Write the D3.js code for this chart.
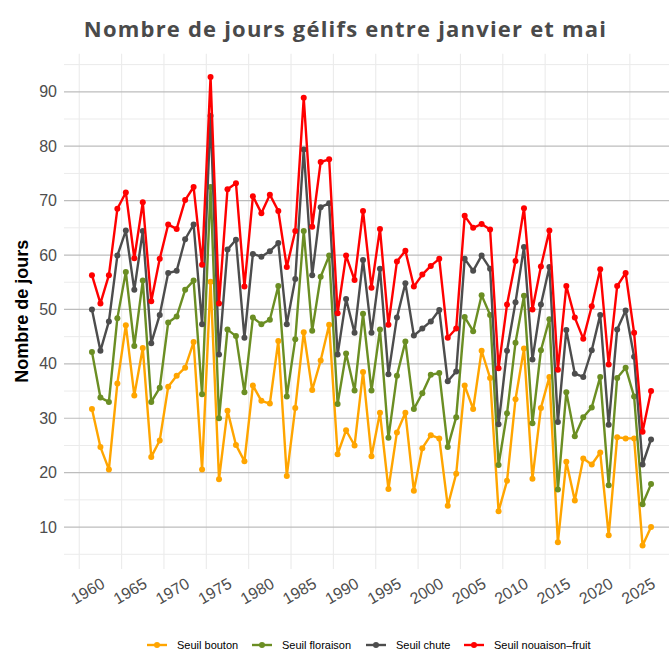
<!DOCTYPE html>
<html>
<head>
<meta charset="utf-8">
<script src="https://cdn.jsdelivr.net/npm/d3@7"></script>
<style>
  html, body { margin: 0; padding: 0; background: #ffffff; }
  svg { display: block; }
</style>
</head>
<body>
<svg id="chart" width="669" height="650"></svg>
<script>
// Years of observation (points sit at mid-year on a continuous year axis)
const years = d3.range(1961, 2028);

// Number of frost days (January–May) under each threshold
const bouton = [31.7, 24.7, 20.6, 36.4, 47.1, 34.2, 42.9, 22.9, 25.9, 35.8, 37.8, 39.3, 44.0, 20.6, 55.1, 18.8,
  31.4, 25.1, 22.1, 36.0, 33.2, 32.7, 44.2, 19.4, 31.9, 45.8, 35.2, 40.6, 47.2, 23.4, 27.8, 25.0,
  38.5, 23.0, 31.0, 17.0, 27.4, 31.0, 16.7, 24.5, 26.9, 26.3, 13.9, 19.8, 36.0, 31.7, 42.4, 37.4,
  12.9, 18.5, 33.5, 42.8, 18.9, 31.9, 37.6, 7.2, 22.0, 14.9, 22.6, 21.5, 23.7, 8.5, 26.5, 26.3,
  26.3, 6.6, 10.0];

const floraison = [42.2, 33.8, 33.0, 48.4, 56.9, 43.3, 55.3, 33.0, 35.6, 47.6, 48.7, 53.6, 55.3, 34.4, 72.5, 30.0,
  46.3, 45.1, 34.8, 48.5, 47.3, 48.1, 54.3, 34.0, 44.5, 64.4, 46.1, 56.0, 59.9, 32.6, 41.9, 35.1,
  49.2, 35.1, 46.3, 26.4, 37.8, 44.1, 31.7, 34.6, 38.0, 38.3, 24.7, 30.2, 48.6, 46.0, 52.6, 49.0,
  21.4, 30.9, 43.9, 52.5, 29.1, 42.5, 48.2, 16.9, 34.8, 26.7, 30.2, 32.0, 37.6, 17.7, 37.4, 39.3,
  34.0, 14.2, 17.9];

const chute = [50.0, 42.4, 47.8, 59.9, 64.5, 53.6, 64.4, 43.8, 49.0, 56.7, 57.1, 62.9, 65.6, 47.3, 85.6, 41.7,
  61.0, 62.8, 44.8, 60.2, 59.7, 60.7, 62.2, 47.3, 55.6, 79.4, 56.3, 68.8, 69.5, 41.7, 51.9, 45.7,
  59.1, 45.7, 57.5, 38.1, 48.5, 54.8, 45.2, 46.5, 47.8, 49.9, 36.8, 38.6, 59.3, 57.1, 59.9, 57.5,
  28.9, 42.4, 51.3, 61.5, 40.8, 50.9, 57.8, 29.3, 46.2, 38.2, 37.6, 42.5, 49.0, 28.8, 46.3, 49.8,
  41.3, 21.5, 26.1];

const nouaison = [56.3, 51.1, 56.3, 68.5, 71.5, 59.4, 69.7, 51.5, 59.3, 65.6, 64.8, 70.1, 72.5, 58.2, 92.7, 51.1,
  72.1, 73.2, 54.2, 70.8, 67.7, 71.1, 68.1, 57.8, 64.4, 88.9, 65.2, 77.1, 77.6, 49.3, 59.9, 55.4,
  68.1, 54.0, 64.8, 47.2, 58.8, 60.8, 54.2, 56.4, 58.0, 59.3, 44.8, 46.5, 67.2, 65.0, 65.7, 64.7,
  39.2, 50.9, 58.9, 68.6, 50.0, 57.9, 64.5, 38.9, 54.3, 48.5, 44.6, 50.6, 57.4, 39.9, 54.3, 56.7,
  45.7, 27.5, 35.0];

const seriesNames = ["Seuil bouton", "Seuil floraison", "Seuil chute", "Seuil nouaison\u2013fruit"];
const seriesColors = ["#FFA500", "#6B8E23", "#4D4D4D", "#FF0000"];
const xTicks = d3.range(1960, 2026, 5);
const yTicks = [10, 20, 30, 40, 50, 60, 70, 80, 90];
const yMinor = [5, 15, 25, 35, 45, 55, 65, 75, 85, 95];

const series = [bouton, floraison, chute, nouaison].map((vals, k) => ({
  name: seriesNames[k],
  color: seriesColors[k],
  points: years.map((yr, i) => ({ x: yr + 0.5, v: vals[i] }))
}));

const svg = d3.select("#chart");
const panel = { left: 64, right: 679, top: 53.7, bottom: 569 };

// Continuous scales with 5% padding around the data range
function padded(ext) {
  const pad = (ext[1] - ext[0]) * 0.05;
  return [ext[0] - pad, ext[1] + pad];
}
const allX = series.flatMap(s => s.points.map(p => p.x));
const allV = series.flatMap(s => s.points.map(p => p.v));
const x = d3.scaleLinear().domain(padded(d3.extent(allX))).range([panel.left, panel.right]);
const y = d3.scaleLinear().domain(padded(d3.extent(allV))).range([panel.bottom, panel.top]);

// Grid
const grid = svg.append("g");
grid.selectAll(".ymin").data(yMinor.filter(v => y(v) >= panel.top && y(v) <= panel.bottom)).join("line")
  .attr("x1", panel.left).attr("x2", panel.right)
  .attr("y1", d => y(d)).attr("y2", d => y(d))
  .attr("stroke", "#ebebeb").attr("stroke-width", 1);
grid.selectAll(".xmaj").data(xTicks).join("line")
  .attr("x1", d => x(d)).attr("x2", d => x(d))
  .attr("y1", panel.top).attr("y2", panel.bottom)
  .attr("stroke", "#ebebeb").attr("stroke-width", 1.1);
grid.selectAll(".ymaj").data(yTicks).join("line")
  .attr("x1", panel.left).attr("x2", panel.right)
  .attr("y1", d => y(d)).attr("y2", d => y(d))
  .attr("stroke", "#bdbdbd").attr("stroke-width", 1.2);

// Axes (text only, no domain line or ticks)
const yAxis = svg.append("g")
  .attr("transform", `translate(${panel.left},0)`)
  .call(d3.axisLeft(y).tickValues(yTicks).tickSize(0).tickPadding(7));
yAxis.select(".domain").remove();
yAxis.selectAll("text")
  .attr("font-family", "'Liberation Sans', Arial, sans-serif")
  .attr("font-size", 16).attr("fill", "#4d4d4d");

const xAxis = svg.append("g")
  .attr("transform", `translate(0,${panel.bottom})`)
  .call(d3.axisBottom(x).tickValues(xTicks).tickFormat(d3.format("d")).tickSize(0));
xAxis.select(".domain").remove();
xAxis.selectAll("text")
  .attr("font-family", "'Liberation Sans', Arial, sans-serif")
  .attr("font-size", 16).attr("fill", "#4d4d4d")
  .attr("text-anchor", "middle")
  .attr("dy", 0)
  .attr("y", 0)
  .attr("transform", "translate(8,22) rotate(-30)")
  .attr("dominant-baseline", "central");

// Lines and points
const line = d3.line().x(p => x(p.x)).y(p => y(p.v));
const marks = svg.append("g");
series.forEach(s => {
  const g = marks.append("g");
  g.append("path").datum(s.points)
    .attr("d", line).attr("fill", "none")
    .attr("stroke", s.color).attr("stroke-width", 2.4)
    .attr("stroke-linejoin", "round");
  g.selectAll("circle").data(s.points).join("circle")
    .attr("cx", p => x(p.x)).attr("cy", p => y(p.v))
    .attr("r", 3).attr("fill", s.color);
});

// Title
svg.append("text")
  .attr("x", 345.5).attr("y", 37)
  .attr("text-anchor", "middle")
  .attr("font-family", "'Open Sans', sans-serif")
  .attr("font-weight", 700).attr("font-size", 22)
  .attr("letter-spacing", 1.2)
  .attr("fill", "#4a4a4a")
  .text("Nombre de jours gélifs entre janvier et mai");

// Y axis title
svg.append("text")
  .attr("transform", `translate(28,${(panel.top + panel.bottom) / 2}) rotate(-90)`)
  .attr("text-anchor", "middle")
  .attr("font-family", "'Liberation Sans', Arial, sans-serif")
  .attr("font-weight", 700).attr("font-size", 18)
  .attr("fill", "#000")
  .text("Nombre de jours");

// Legend
const legendX = [147, 252, 366, 464];
const legend = svg.append("g").attr("transform", "translate(0,645)");
series.forEach((s, k) => {
  const g = legend.append("g").attr("transform", `translate(${legendX[k]},0)`);
  g.append("line").attr("x1", 0).attr("x2", 20).attr("y1", 0).attr("y2", 0)
    .attr("stroke", s.color).attr("stroke-width", 2.4);
  g.append("circle").attr("cx", 10).attr("cy", 0).attr("r", 3).attr("fill", s.color);
  g.append("text").attr("x", 30).attr("y", 0).attr("dy", "0.35em")
    .attr("font-family", "'Liberation Sans', Arial, sans-serif")
    .attr("font-size", 11).attr("fill", "#000")
    .text(s.name);
});
</script>
</body>
</html>
